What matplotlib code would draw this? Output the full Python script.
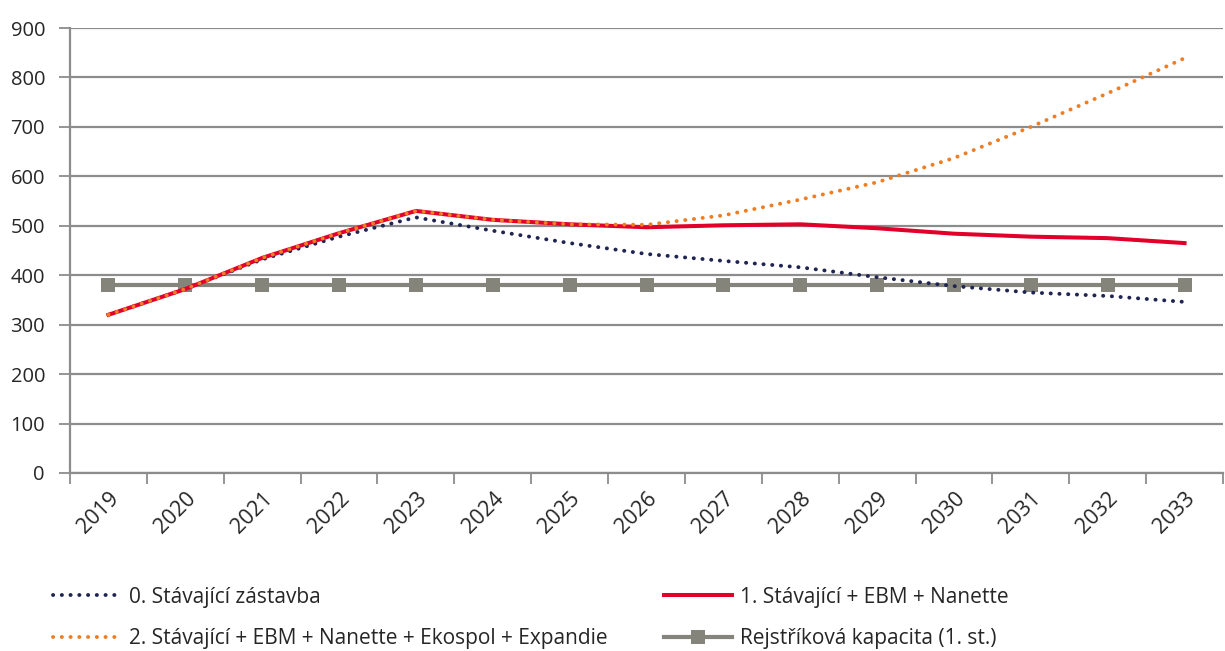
"""Projected pupil counts vs. registered capacity."""

import matplotlib
matplotlib.use("Agg")
import matplotlib.pyplot as plt
from matplotlib.lines import Line2D

FONT = "Open Sans"
COLORS = {
    "navy": "#1F2550",
    "red": "#E2002B",
    "orange": "#EF7D22",
    "gray": "#85847B",
    "grid": "#8C8C8C",
    "ink": "#262626",
}

years = [str(y) for y in range(2019, 2034)]
stavajici = [320, 372, 432, 478, 517, 490, 465, 443, 429, 416, 396, 378, 365, 358, 346]
ebm_nanette = [320, 372, 435, 485, 530, 512, 503, 497, 501, 503, 495, 484, 478, 475, 465]
ekospol_expandie = [320, 372, 435, 485, 530, 512, 503, 502, 521, 553, 588, 637, 700, 768, 839]
kapacita = [380] * len(years)

labels = [
    "0. Stávající zástavba",
    "1. Stávající + EBM + Nanette",
    "2. Stávající + EBM + Nanette + Ekospol + Expandie",
    "Rejstříková kapacita (1. st.)",
]

plt.rcParams["font.family"] = [FONT, "DejaVu Sans"]

fig = plt.figure(figsize=(12.25, 6.51), dpi=100)
ax = fig.add_axes([70 / 1225, 1 - 473 / 651, 1153 / 1225, (473 - 28) / 651])

x = list(range(len(years)))
dots = (0, (0.05, 2.2))
dot_lw = 2.8

ax.plot(x, kapacita, color=COLORS["gray"], linewidth=3.0, marker="s",
        markersize=10.5, markeredgewidth=0, zorder=2)
ax.plot(x, stavajici, color=COLORS["navy"], linewidth=dot_lw, linestyle=dots,
        dash_capstyle="round", zorder=3)
ax.plot(x, ebm_nanette, color=COLORS["red"], linewidth=2.9, zorder=4)
ax.plot(x, ekospol_expandie, color=COLORS["orange"], linewidth=dot_lw,
        linestyle=dots, dash_capstyle="round", zorder=5)

ax.set_xlim(-0.5, len(years) - 0.5)
ax.set_ylim(0, 900)
ax.set_yticks(range(0, 901, 100))
ax.grid(axis="y", color=COLORS["grid"], linewidth=1.6)
ax.set_axisbelow(True)

ax.set_xticks([i - 0.5 for i in range(len(years) + 1)], minor=False)
ax.set_xticklabels([])
ax.set_xticks(x, minor=True)
ax.set_xticklabels(years, minor=True, rotation=45, ha="right",
                   rotation_mode="anchor", fontsize=15.5, color=COLORS["ink"])
ax.tick_params(axis="x", which="major", length=8, width=1.3, color=COLORS["grid"])
ax.tick_params(axis="x", which="minor", length=0, pad=11)
ax.tick_params(axis="y", length=8, width=1.3, color=COLORS["grid"],
               labelsize=14.5, labelcolor=COLORS["ink"], pad=10)

for side in ("top", "right"):
    ax.spines[side].set_visible(False)
ax.spines["left"].set_color(COLORS["grid"])
ax.spines["left"].set_linewidth(1.6)
ax.spines["bottom"].set_color(COLORS["grid"])
ax.spines["bottom"].set_linewidth(1.6)

handles = [
    Line2D([], [], color=COLORS["navy"], linewidth=dot_lw, linestyle=dots, dash_capstyle="round"),
    Line2D([], [], color=COLORS["orange"], linewidth=dot_lw, linestyle=dots, dash_capstyle="round"),
    Line2D([], [], color=COLORS["red"], linewidth=2.9),
    Line2D([], [], color=COLORS["gray"], linewidth=3.0, marker="s", markersize=10.5,
           markeredgewidth=0),
]
order_labels = [labels[0], labels[2], labels[1], labels[3]]
fig.legend(handles, order_labels, loc="upper left", bbox_to_anchor=(0.043, 0.099),
           ncol=2, frameon=False, fontsize=15, handlelength=3.3, handletextpad=0.35,
           columnspacing=2.7, labelspacing=1.0, labelcolor=COLORS["ink"],
           borderaxespad=0, borderpad=0)

fig.savefig("out.png", dpi=100)
plt.close(fig)
